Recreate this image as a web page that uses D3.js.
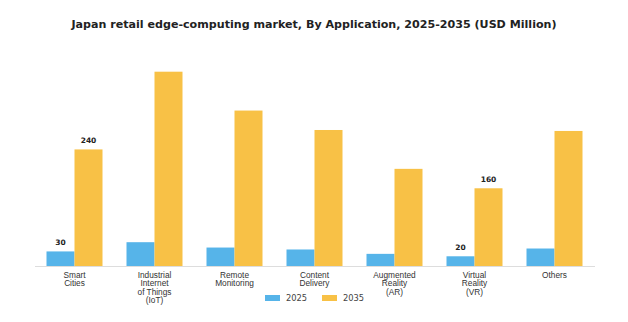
<!DOCTYPE html>
<html><head><meta charset="utf-8">
<script src="https://cdn.jsdelivr.net/npm/d3@7"></script>
<style>body{margin:0;background:#fff;} svg{display:block;font-family:"DejaVu Sans",sans-serif;}</style>
</head><body>
<svg id="c" width="628" height="322"></svg>
<script>
const categories = ["Smart Cities","Industrial Internet of Things (IoT)","Remote Monitoring","Content Delivery","Augmented Reality (AR)","Virtual Reality (VR)","Others"];
const categoryLines = [["Smart","Cities"],["Industrial","Internet","of Things","(IoT)"],["Remote","Monitoring"],["Content","Delivery"],["Augmented","Reality","(AR)"],["Virtual","Reality","(VR)"],["Others"]];
const seriesNames = ["2025","2035"];
const values2025 = [30, 49, 38, 34, 25, 20, 36];
const values2035 = [240, 400, 320, 280, 200, 160, 278];
const shownLabels2025 = [30, null, null, null, null, 20, null];
const shownLabels2035 = [240, null, null, null, null, 160, null];
const colors = ["#56b4e9", "#f8c146"];

const svg = d3.select("#c");
const x0 = 34.5, x1 = 594.5, yBase = 266;
const x = d3.scaleBand().domain(categories).range([x0, x1]).paddingInner(0.3).paddingOuter(0.15);
const xs = d3.scaleBand().domain(seriesNames).range([0, x.bandwidth()]);
const y = d3.scaleLinear().domain([0, 400]).range([yBase, yBase - 194.3]);

svg.append("text").attr("x", 314).attr("y", 28).attr("text-anchor","middle")
  .attr("font-size", 11.1).attr("font-weight","bold").attr("fill","#222")
  .text("Japan retail edge-computing market, By Application, 2025-2035 (USD Million)");

const series = [values2025, values2035];
const labels = [shownLabels2025, shownLabels2035];
series.forEach((vals, si) => {
  svg.append("g").selectAll("rect").data(categories).join("rect")
    .attr("x", d => x(d) + xs(seriesNames[si]))
    .attr("y", (d,i) => y(vals[i]))
    .attr("width", xs.bandwidth())
    .attr("height", (d,i) => y(0) - y(vals[i]))
    .attr("fill", colors[si]);
  svg.append("g").selectAll("text").data(categories).join("text")
    .filter((d,i) => labels[si][i] !== null)
    .attr("x", d => x(d) + xs(seriesNames[si]) + xs.bandwidth()/2)
    .attr("y", d => y(vals[categories.indexOf(d)]) - 6)
    .attr("text-anchor","middle").attr("font-size", 7.5).attr("font-weight","bold").attr("fill","#222")
    .text(d => labels[si][categories.indexOf(d)]);
});

// axis
const xAxis = svg.append("g").attr("transform", `translate(0,${yBase})`)
  .call(d3.axisBottom(x).tickSize(0).tickFormat(""));
xAxis.select(".domain").attr("stroke","#ddd").attr("stroke-width",1);
xAxis.selectAll(".tick").each(function(d,i){
  const t = d3.select(this).append("text").attr("fill","#333").attr("font-size",8.3)
    .attr("text-anchor","middle").attr("y", 11.5);
  categoryLines[i].forEach((ln,k) => t.append("tspan").attr("x",0).attr("dy", k===0?0:8.6).text(ln));
});

// legend
const lg = svg.append("g").attr("transform","translate(265,298)");
seriesNames.forEach((s,i) => {
  const g = lg.append("g").attr("transform", `translate(${i*57},0)`);
  g.append("rect").attr("x",0).attr("y",-3).attr("width",15).attr("height",6).attr("fill",colors[i]);
  g.append("text").attr("x",21).attr("y",3).attr("font-size",8.3).attr("fill","#444").text(s);
});
</script>
</body></html>
